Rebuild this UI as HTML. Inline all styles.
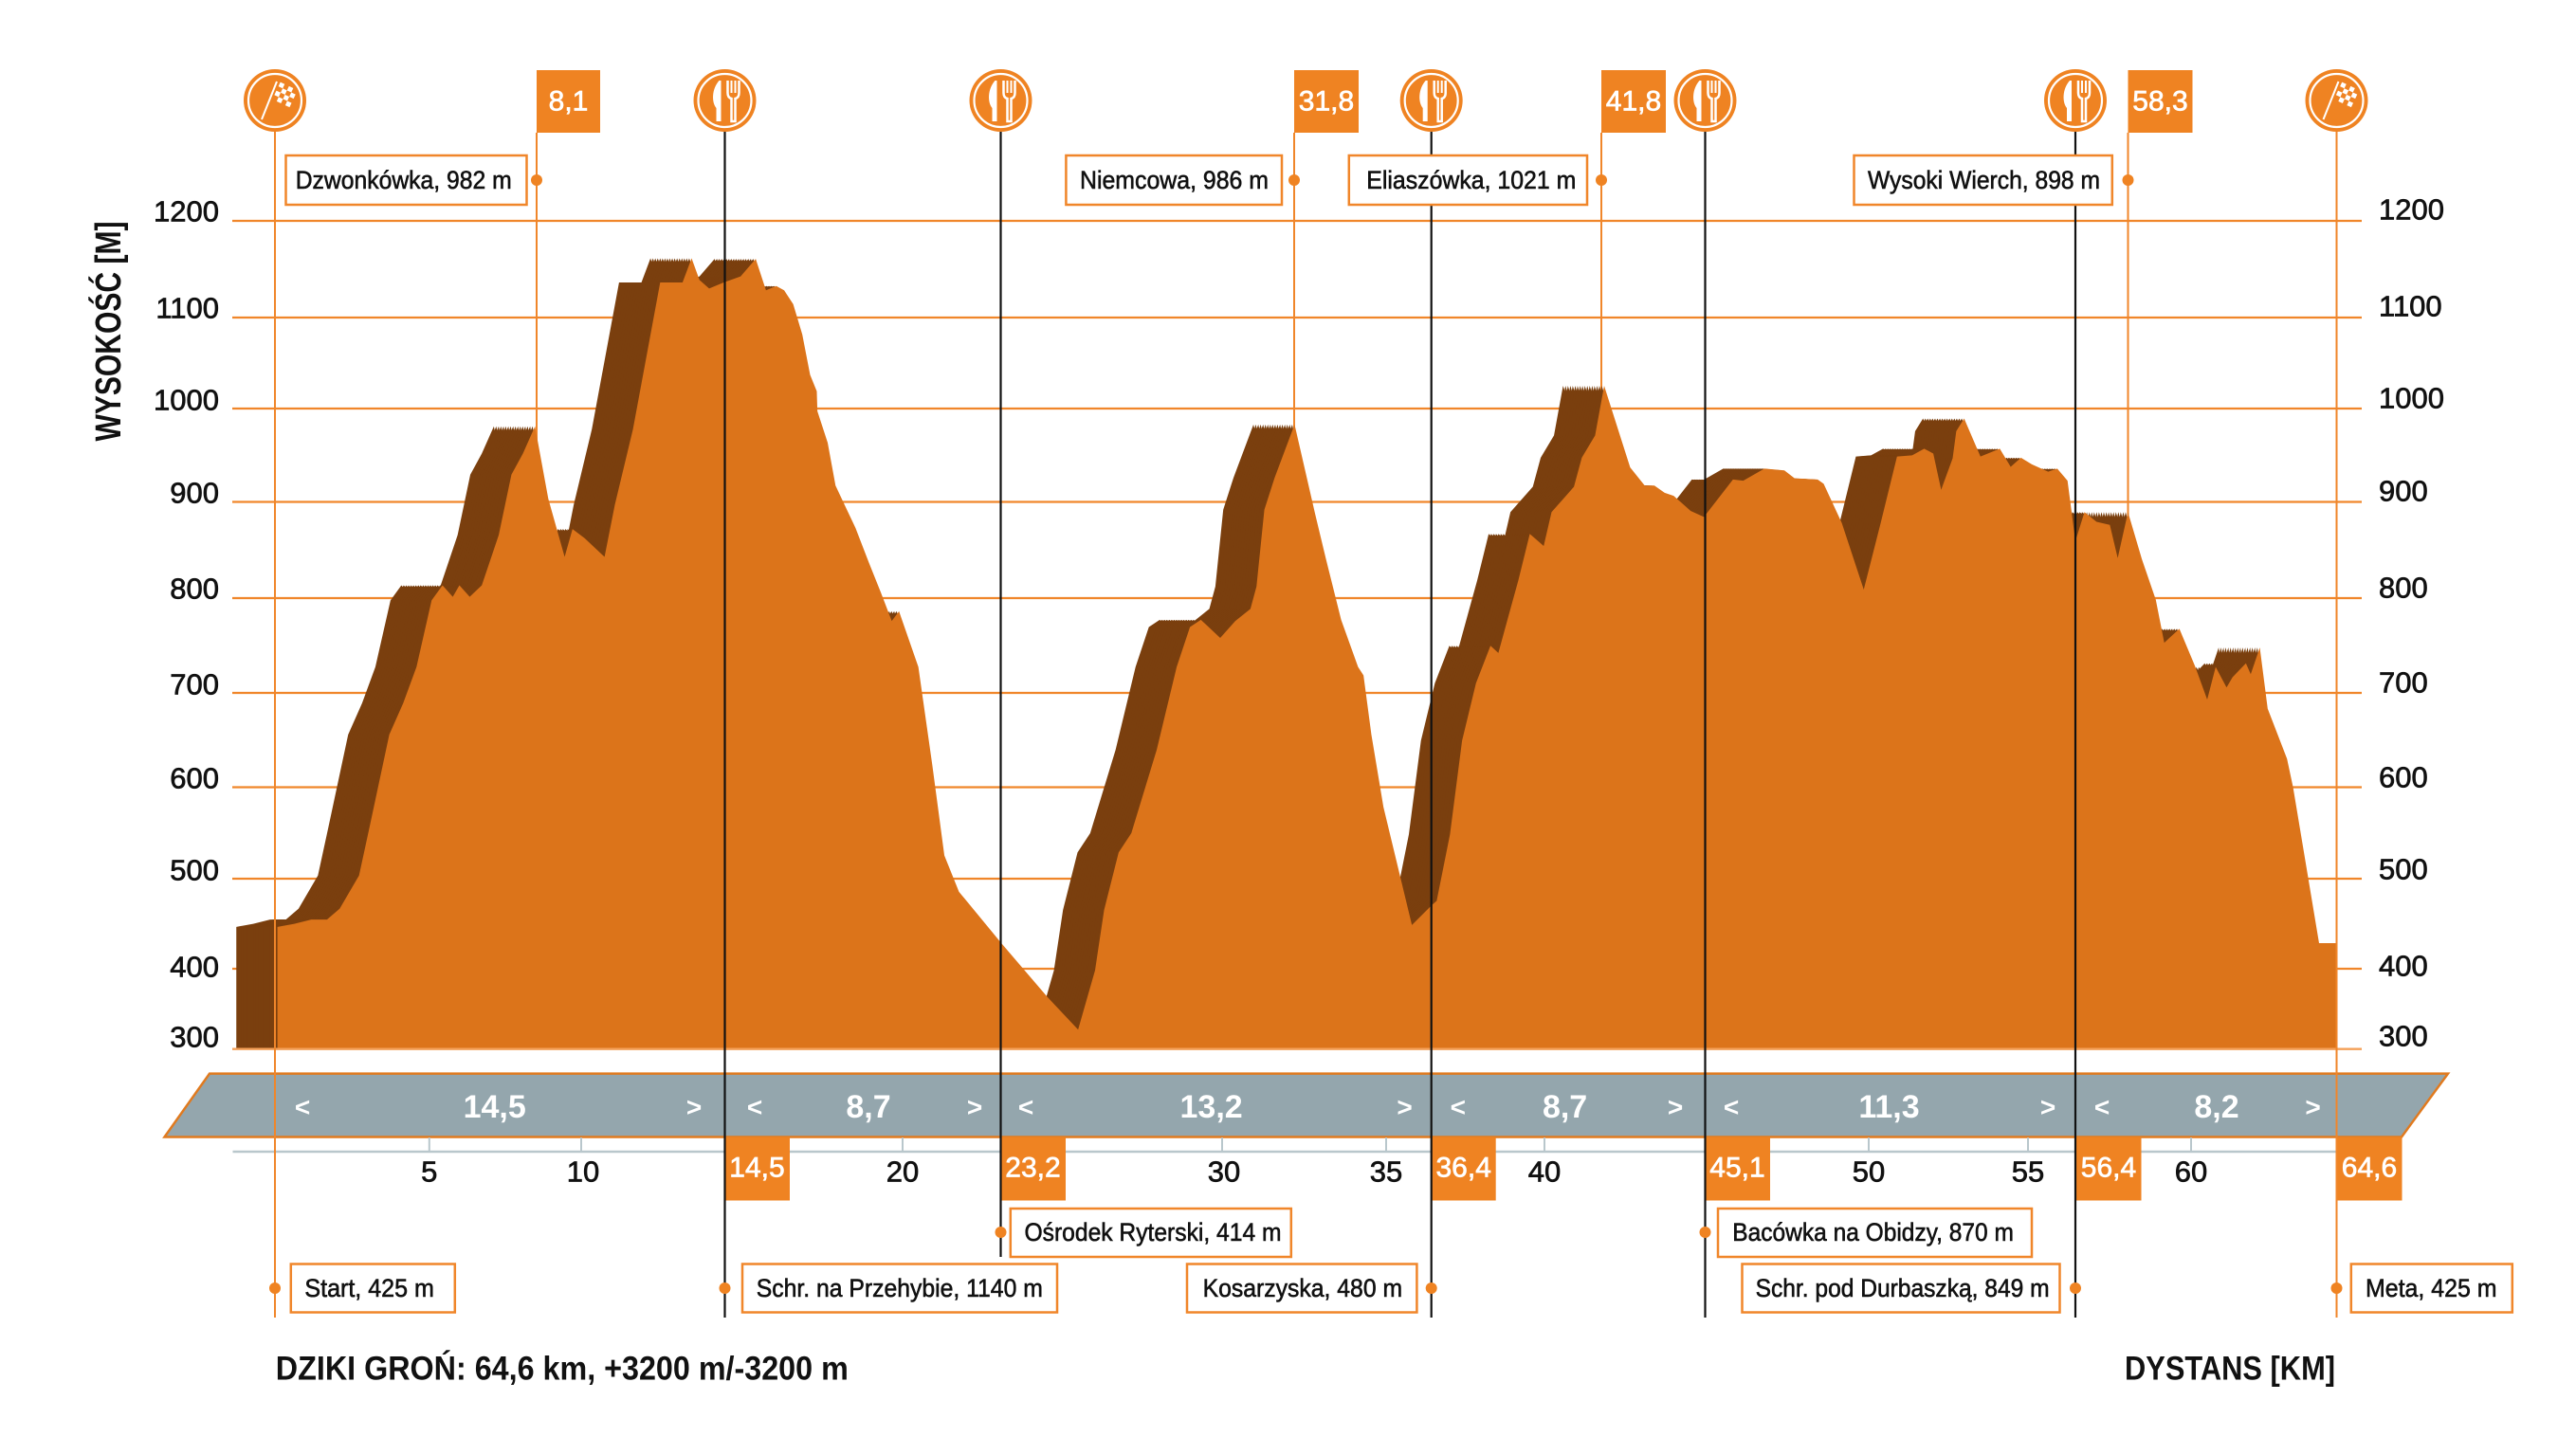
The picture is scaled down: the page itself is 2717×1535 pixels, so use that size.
<!DOCTYPE html>
<html><head><meta charset="utf-8"><style>
html,body{margin:0;padding:0;background:#fff;}
svg{display:block;}
text{font-family:"Liberation Sans",Arial,sans-serif;}
</style></head><body>
<svg width="2717" height="1535" viewBox="0 0 2717 1535" xmlns="http://www.w3.org/2000/svg">
<defs>
<polygon id="p" points="302,1500 302,1298 330,1293 358,1286 384,1286 405,1268 437,1213 455,1130 487,980 510,928 532,868 557,758 575,733 592,752 603,733 620,752 640,733 668,650 689,550 708,515 728,470 750,590 777,686 790,640 810,655 843,686 860,600 890,475 935,232 972,232 987,192 1000,228 1016,242 1040,232 1068,222 1093,193 1110,245 1127,238 1140,245 1155,268 1170,318 1183,385 1194,412 1195,445 1212,497 1225,568 1240,600 1258,638 1280,695 1300,745 1318,792 1330,776 1362,868 1385,1030 1405,1180 1429.2,1240 1499.2,1325 1576.2,1415 1626.2,1468 1654.2,1370 1669.2,1270 1693.2,1175 1714.2,1143 1756.2,1005 1789.2,868 1811.2,802 1829.2,790 1861.2,820 1886.2,792 1911.2,772 1921.2,735 1934.2,608 1951.2,555 1984.2,467 2018.2,615 2036.2,690 2061.2,790 2089.2,868 2098.2,882 2111.2,980 2131.2,1100 2178.2,1295 2211.2,1262 2219.2,1255 2241.2,1145 2261.2,990 2284.2,895 2308.2,833 2321.2,845 2341.2,772 2354.2,725 2373.2,648 2396.2,668 2409.2,612 2446.2,570 2459.2,522 2481.2,485 2496.2,403 2539.2,538 2563.2,568 2579.2,568 2596.2,580 2611.2,585 2639.2,610 2661.2,620 2709.2,558 2726.2,560 2761.2,540 2794.2,543 2811.2,556 2849.2,558 2859.2,565 2889.2,630 2925.5,740 2953.5,630 2980.5,520 3005.5,518 3025.5,507 3040.5,515 3053.5,575 3072.5,523 3078.5,478 3091.5,457 3118.5,520 3150.5,507 3168.5,537 3185.5,522 3203.5,533 3230.5,545 3245.5,540 3262.5,560 3275.5,660 3290.5,612 3310.5,628 3332.5,633 3345.5,688 3362.5,612 3385.5,690 3408.5,757 3422.5,828 3447.5,805 3473.5,867 3493.5,922 3507.5,868 3525.5,902 3535.5,885 3557.5,862 3565.5,880 3580.5,836 3593.5,937 3625.5,1020 3635.5,1067 3678.5,1325 3707.5,1325 3707.5,1500"/>
<g id="fork">
  <circle r="33" fill="#ef8322"/>
  <circle r="28" fill="none" stroke="#fff" stroke-width="2.2"/>
  <path d="M-6,-21 C-14,-12 -14,2 -9,8 L-9,22 L-4,22 L-4,-21 Z" fill="#fff"/>
  <path d="M3,-21 L3,-8 Q3,-3 7,-2 L7,22 L11,22 L11,-2 Q15,-3 15,-8 L15,-21" fill="none" stroke="#fff" stroke-width="2.5"/>
  <path d="M7,-21 L7,-8 M11,-21 L11,-8" stroke="#fff" stroke-width="2"/>
</g>
<g id="flag">
  <circle r="33" fill="#ef8322"/>
  <circle r="28" fill="none" stroke="#fff" stroke-width="2.2"/>
  <line x1="-14" y1="20" x2="2" y2="-20" stroke="#fff" stroke-width="2"/>
  <g fill="#fff" transform="rotate(25)">
    <rect x="-3" y="-20" width="5" height="5"/><rect x="7" y="-20" width="5" height="5"/>
    <rect x="2" y="-15" width="5" height="5"/><rect x="12" y="-15" width="5" height="5"/>
    <rect x="-3" y="-10" width="5" height="5"/><rect x="7" y="-10" width="5" height="5"/>
    <rect x="2" y="-5" width="5" height="5"/><rect x="12" y="-5" width="5" height="5"/>
  </g>
</g>
</defs>

<g stroke="#f0862a" stroke-width="2.2">
<line x1="245" y1="233" x2="2491" y2="233"/>
<line x1="245" y1="335" x2="2491" y2="335"/>
<line x1="245" y1="431" x2="2491" y2="431"/>
<line x1="245" y1="529.5" x2="2491" y2="529.5"/>
<line x1="245" y1="631" x2="2491" y2="631"/>
<line x1="245" y1="731" x2="2491" y2="731"/>
<line x1="245" y1="830.5" x2="2491" y2="830.5"/>
<line x1="245" y1="927" x2="2491" y2="927"/>
<line x1="245" y1="1022" x2="2491" y2="1022"/>
<line x1="245" y1="1106.6" x2="2491" y2="1106.6" stroke="#f4a058"/>
</g>

<g stroke="#f0862a" stroke-width="2">
<line x1="566" y1="140" x2="566" y2="1106"/>
<line x1="1365" y1="140" x2="1365" y2="1106"/>
<line x1="1689" y1="140" x2="1689" y2="1106"/>
<line x1="2244.5" y1="140" x2="2244.5" y2="1106"/>
</g>

<g transform="translate(100,150) scale(0.63776)">
<g fill="#7a3f0e">
<use href="#p" x="-68"/><use href="#p" x="-64"/><use href="#p" x="-60"/><use href="#p" x="-56"/><use href="#p" x="-52"/><use href="#p" x="-48"/><use href="#p" x="-44"/><use href="#p" x="-40"/><use href="#p" x="-36"/><use href="#p" x="-32"/><use href="#p" x="-28"/><use href="#p" x="-24"/><use href="#p" x="-20"/><use href="#p" x="-16"/><use href="#p" x="-12"/><use href="#p" x="-8"/><use href="#p" x="-4"/>
</g>
<use href="#p" fill="#dc741a"/>
</g>
<line x1="245" y1="1106.6" x2="2491" y2="1106.6" stroke="#f4a058" stroke-width="2.2"/>

<g font-size="31" fill="#111" stroke="#111" stroke-width="0.7" text-anchor="end" dominant-baseline="central">
<text x="231" y="223">1200</text><text x="231" y="325">1100</text><text x="231" y="422">1000</text>
<text x="231" y="520">900</text><text x="231" y="621">800</text><text x="231" y="722">700</text>
<text x="231" y="821">600</text><text x="231" y="918">500</text><text x="231" y="1020">400</text><text x="231" y="1094">300</text>
</g>
<g font-size="31" fill="#111" stroke="#111" stroke-width="0.7" dominant-baseline="central">
<text x="2509" y="221">1200</text><text x="2509" y="323">1100</text><text x="2509" y="420">1000</text>
<text x="2509" y="518">900</text><text x="2509" y="620">800</text><text x="2509" y="720">700</text>
<text x="2509" y="820">600</text><text x="2509" y="917">500</text><text x="2509" y="1019">400</text><text x="2509" y="1093">300</text>
</g>
<text transform="translate(127,349.5) rotate(-90)" text-anchor="middle" font-size="38" font-weight="bold" textLength="232" lengthAdjust="spacingAndGlyphs" fill="#111">WYSOKOŚĆ [M]</text>

<polygon points="221,1132.6 2582,1132.6 2533,1199.5 173.5,1199.5" fill="#94a6ad" stroke="#e07a1f" stroke-width="2.5"/>
<g fill="#fff" font-weight="bold" font-size="34" text-anchor="middle" dominant-baseline="central">
<text x="521.7" y="1168">14,5</text><text x="916" y="1168">8,7</text><text x="1277.6" y="1168">13,2</text>
<text x="1650.6" y="1168">8,7</text><text x="1992.5" y="1168">11,3</text><text x="2338" y="1168">8,2</text>
<g font-size="28">
<text x="319" y="1168">&lt;</text><text x="732" y="1168">&gt;</text><text x="796" y="1168">&lt;</text><text x="1028" y="1168">&gt;</text>
<text x="1082" y="1168">&lt;</text><text x="1481.6" y="1168">&gt;</text><text x="1537.8" y="1168">&lt;</text><text x="1767" y="1168">&gt;</text>
<text x="1826" y="1168">&lt;</text><text x="2160" y="1168">&gt;</text><text x="2217" y="1168">&lt;</text><text x="2439.6" y="1168">&gt;</text>
</g></g>

<line x1="245.5" y1="1215" x2="2464" y2="1215" stroke="#b9c7cc" stroke-width="2.5"/>
<g stroke="#b9c7cc" stroke-width="2">
<line x1="290" y1="1200" x2="290" y2="1215"/><line x1="452.8" y1="1200" x2="452.8" y2="1215"/><line x1="613" y1="1200" x2="613" y2="1215"/>
<line x1="952" y1="1200" x2="952" y2="1215"/><line x1="1289" y1="1200" x2="1289" y2="1215"/><line x1="1462" y1="1200" x2="1462" y2="1215"/>
<line x1="1629" y1="1200" x2="1629" y2="1215"/><line x1="1971" y1="1200" x2="1971" y2="1215"/><line x1="2139" y1="1200" x2="2139" y2="1215"/><line x1="2311" y1="1200" x2="2311" y2="1215"/>
</g>
<g font-size="31" fill="#111" stroke="#111" stroke-width="0.7" text-anchor="middle" dominant-baseline="central">
<text x="452.8" y="1236">5</text><text x="615" y="1236">10</text><text x="952" y="1236">20</text><text x="1291" y="1236">30</text>
<text x="1462" y="1236">35</text><text x="1629" y="1236">40</text><text x="1971" y="1236">50</text><text x="2139" y="1236">55</text><text x="2311" y="1236">60</text>
</g>

<g fill="#ef8322">
<rect x="764" y="1199.5" width="69" height="67"/><rect x="1055" y="1199.5" width="69" height="67"/>
<rect x="1509.7" y="1199.5" width="68" height="67"/><rect x="1798" y="1199.5" width="69" height="67"/>
<rect x="2189.5" y="1199.5" width="69" height="67"/><rect x="2464.5" y="1199.5" width="69" height="67"/>
</g>
<g fill="#fff" stroke="#fff" stroke-width="0.7" font-size="30" text-anchor="middle" dominant-baseline="central">
<text x="798.5" y="1232">14,5</text><text x="1089.5" y="1232">23,2</text><text x="1543.7" y="1232">36,4</text>
<text x="1832.5" y="1232">45,1</text><text x="2224" y="1232">56,4</text><text x="2499" y="1232">64,6</text>
</g>

<g fill="#ef8322">
<rect x="566" y="74" width="67" height="66"/><rect x="1365" y="74" width="68" height="66"/>
<rect x="1689" y="74" width="68" height="66"/><rect x="2244.5" y="74" width="68" height="66"/>
</g>
<g fill="#fff" stroke="#fff" stroke-width="0.7" font-size="30" text-anchor="middle" dominant-baseline="central">
<text x="599.5" y="107">8,1</text><text x="1399" y="107">31,8</text><text x="1723" y="107">41,8</text><text x="2278.5" y="107">58,3</text>
</g>

<g stroke="#f0862a" stroke-width="2">
<line x1="290" y1="139" x2="290" y2="1390"/><line x1="2464.5" y1="139" x2="2464.5" y2="1390"/>
</g>
<g stroke="#111" stroke-width="2.2">
<line x1="764.5" y1="139" x2="764.5" y2="1390"/><line x1="1055.5" y1="139" x2="1055.5" y2="1326"/>
<line x1="1509.7" y1="139" x2="1509.7" y2="1390"/><line x1="1798.5" y1="139" x2="1798.5" y2="1390"/>
<line x1="2189" y1="139" x2="2189" y2="1390"/>
</g>

<use href="#flag" x="290" y="106"/>
<use href="#fork" x="764.5" y="106"/>
<use href="#fork" x="1055.5" y="106"/>
<use href="#fork" x="1509.7" y="106"/>
<use href="#fork" x="1798.5" y="106"/>
<use href="#fork" x="2189" y="106"/>
<use href="#flag" x="2464.5" y="106"/>

<g fill="#fff" stroke="#f0862a" stroke-width="2.5">
<rect x="301.5" y="164" width="254" height="52"/>
<rect x="1124.4" y="164" width="227.6" height="52"/>
<rect x="1422.8" y="164" width="251.2" height="52"/>
<rect x="1955.5" y="164" width="272.3" height="52"/>
<rect x="1065.8" y="1275" width="296" height="51"/>
<rect x="1812" y="1275" width="331" height="51"/>
<rect x="306.8" y="1333.5" width="173" height="51"/>
<rect x="783" y="1333.5" width="332" height="51"/>
<rect x="1252" y="1333.5" width="242.4" height="51"/>
<rect x="1837.5" y="1333.5" width="335" height="51"/>
<rect x="2479.8" y="1333.5" width="170" height="51"/>
</g>
<g fill="#ef8322">
<circle cx="566" cy="190" r="6"/><circle cx="1365" cy="190" r="6"/><circle cx="1689" cy="190" r="6"/><circle cx="2244.5" cy="190" r="6"/>
<circle cx="1055.5" cy="1300" r="6"/><circle cx="1798.5" cy="1300" r="6"/>
<circle cx="290" cy="1359" r="6"/><circle cx="764.5" cy="1359" r="6"/><circle cx="1509.7" cy="1359" r="6"/><circle cx="2189" cy="1359" r="6"/><circle cx="2464.5" cy="1359" r="6"/>
</g>
<g fill="#111" stroke="#111" stroke-width="0.6" font-size="27" dominant-baseline="central">
<text x="311.7" y="190" textLength="228" lengthAdjust="spacingAndGlyphs">Dzwonkówka, 982 m</text>
<text x="1139" y="190" textLength="199" lengthAdjust="spacingAndGlyphs">Niemcowa, 986 m</text>
<text x="1441.3" y="190" textLength="221" lengthAdjust="spacingAndGlyphs">Eliaszówka, 1021 m</text>
<text x="1970" y="190" textLength="245" lengthAdjust="spacingAndGlyphs">Wysoki Wierch, 898 m</text>
<text x="1080.5" y="1300" textLength="271" lengthAdjust="spacingAndGlyphs">Ośrodek Ryterski, 414 m</text>
<text x="1827.3" y="1300" textLength="296.6" lengthAdjust="spacingAndGlyphs">Bacówka na Obidzy, 870 m</text>
<text x="321.4" y="1359" textLength="136.5" lengthAdjust="spacingAndGlyphs">Start, 425 m</text>
<text x="797.8" y="1359" textLength="302" lengthAdjust="spacingAndGlyphs">Schr. na Przehybie, 1140 m</text>
<text x="1268.6" y="1359" textLength="210.5" lengthAdjust="spacingAndGlyphs">Kosarzyska, 480 m</text>
<text x="1851.6" y="1359" textLength="310" lengthAdjust="spacingAndGlyphs">Schr. pod Durbaszką, 849 m</text>
<text x="2495" y="1359" textLength="138.5" lengthAdjust="spacingAndGlyphs">Meta, 425 m</text>
</g>

<text x="290.8" y="1444" font-size="35" font-weight="bold" fill="#111" dominant-baseline="central" textLength="604" lengthAdjust="spacingAndGlyphs">DZIKI GROŃ: 64,6 km, +3200 m/-3200 m</text>
<text x="2241" y="1444" font-size="35" font-weight="bold" fill="#111" dominant-baseline="central" textLength="222" lengthAdjust="spacingAndGlyphs">DYSTANS [KM]</text>
</svg>
</body></html>
